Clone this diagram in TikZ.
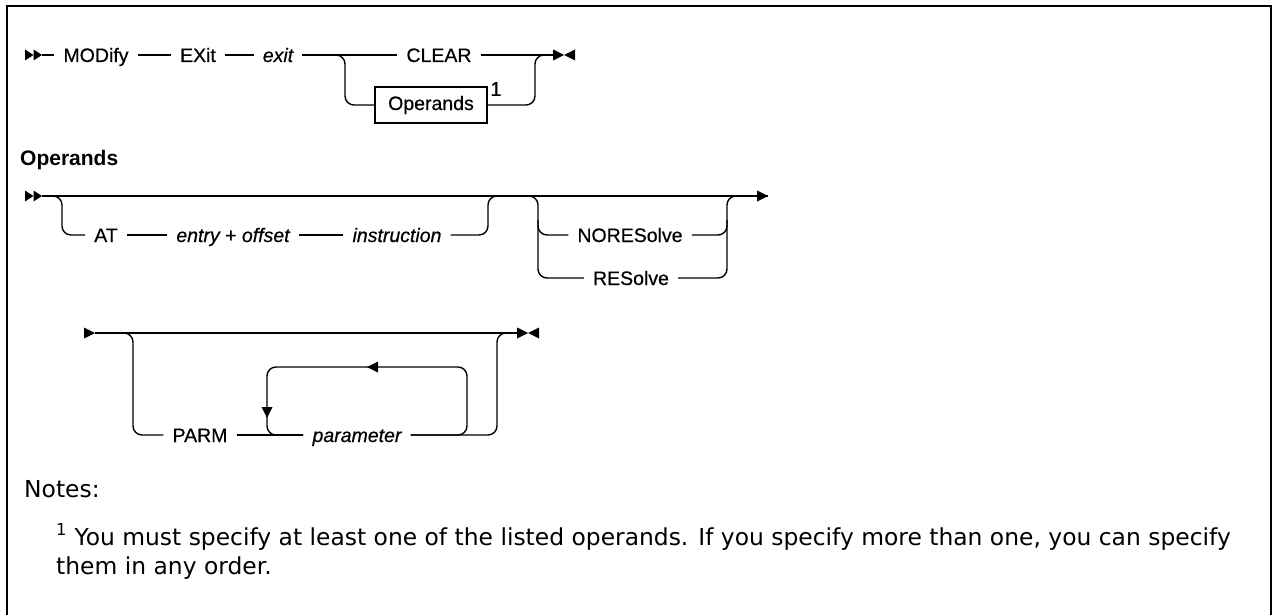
\documentclass[tikz,border=0pt]{standalone}
\usepackage{fontspec}
\setmainfont{Liberation Sans}
\newfontfamily\diagfont[FakeBold=0.5]{Liberation Sans}
\newfontfamily\notefont{DejaVu Sans}
\newcommand\dsz{\diagfont\fontsize{19.5}{23}\selectfont}
\newcommand\nsz{\notefont\fontsize{23.4}{28}\selectfont}
\tikzset{
  rr/.style={line width=1.4pt, line join=round},
  br/.style={rr, rounded corners=9pt},
  kw/.style={font=\dsz, inner xsep=9pt, inner ysep=0pt, text height=14pt, text depth=0pt},
  var/.style={kw, font=\dsz\itshape},
  opbox/.style={draw, line width=1.3pt, font=\dsz, minimum width=112pt, minimum height=36pt, inner sep=0pt},
  startmark/.pic={\fill (0,-5.5) -- (8.5,0) -- (0,5.5) -- cycle;
                  \fill (8.5,-5.5) -- (17,0) -- (8.5,5.5) -- cycle;},
  endmark/.pic={\fill (0,-5.5) -- (11,0) -- (0,5.5) -- cycle;
                \fill (22,-5.5) -- (11,0) -- (22,5.5) -- cycle;},
  triR/.pic={\fill (-11,-5.5) -- (0,0) -- (-11,5.5) -- cycle;},
  triL/.pic={\fill (11,-5.5) -- (0,0) -- (11,5.5) -- cycle;},
  triD/.pic={\fill (-5.5,-11) -- (0,0) -- (5.5,-11) -- cycle;},
}
\begin{document}
\begin{tikzpicture}[x=1pt,y=-1pt]
\useasboundingbox (0,0) rectangle (1273,615);
% frame
\draw[line width=2pt] (7,620) -- (7,6) -- (1271,6) -- (1271,620);

% ---------- Diagram 1 ----------
\pic at (25,55) {startmark};
\coordinate (s1) at (42,55);
\node[kw] (mod) at (96,55) {MODify};
\node[kw] (ex) at (198,55) {EXit};
\node[var] (exv) at (278,55) {exit};
\node[kw] (clr) at (439,55) {CLEAR};
\node[opbox] (ops) at (431,105) {Operands};
\node[font=\diagfont\fontsize{20}{20}\selectfont, inner sep=0pt] (sup1) at (496,89) {1};
\coordinate (e1) at (553,55);
\pic at (e1) {endmark};
\draw[rr] (s1) -- (mod.west);
\draw[rr] (mod.east) -- (ex.west);
\draw[rr] (ex.east) -- (exv.west);
\draw[rr] (exv.east) -- (clr.west);
\draw[rr] (clr.east) -- (e1);
\draw[br] (exv.east) -- (345,55) -- (345,105) -- (ops.west);
\draw[br] (ops.east) -- (535,105) -- (535,55) -- (e1);

% heading
\node[font=\fontsize{21}{24}\selectfont\bfseries, anchor=west, inner sep=0pt] (hd) at (20,160) {Operands};

% ---------- Diagram 2 ----------
\pic at (25,196) {startmark};
\coordinate (s2) at (42,196);
\coordinate (a2) at (768,196);
\draw[rr] (s2) -- (a2);
\pic at (a2) {triR};
\node[kw] (at) at (106,235) {AT};
\node[var] (eo) at (233,235) {entry {\upshape+} offset};
\node[var] (ins) at (397,235) {instruction};
\draw[br] (s2) -- (62,196) -- (62,235) -- (at.west);
\draw[rr] (at.east) -- (eo.west);
\draw[rr] (eo.east) -- (ins.west);
\draw[br] (ins.east) -- (488,235) -- (488,196) -- (505,196);
\node[kw] (nor) at (630,235) {NORESolve};
\node[kw] (res) at (631,278) {RESolve};
\draw[br] (520,196) -- (538,196) -- (538,235) -- (nor.west);
\draw[br] (538,220) -- (538,278) -- (res.west);
\draw[br] (nor.east) -- (727,235) -- (727,196) -- (745,196);
\draw[br] (res.east) -- (727,278) -- (727,220);

% ---------- Diagram 3 ----------
\pic at (95,333) {triR};
\coordinate (s3) at (95,333);
\coordinate (e3) at (517,333);
\draw[rr] (s3) -- (e3);
\pic at (e3) {endmark};
\node[kw] (parm) at (200,435) {PARM};
\node[var] (par) at (357,435) {parameter};
\draw[br] (s3) -- (133,333) -- (133,435) -- (parm.west);
\draw[rr] (parm.east) -- (par.west);
\draw[br] (par.east) -- (467,435) -- (467,367) -- (267,367) -- (267,435) -- (par.west);
\draw[br] (par.east) -- (497,435) -- (497,333) -- (e3);
\pic at (367,367) {triL};
\pic at (267,418) {triD};

% ---------- Notes ----------
\node[font=\nsz, anchor=base west, inner sep=0pt] (notes) at (24,497) {Notes:};
\node[font=\nsz, anchor=base west, inner sep=0pt] (note1) at (56,545) {\textsuperscript{1} You must specify at least one of the listed operands. If you specify more than one, you can specify};
\node[font=\nsz, anchor=base west, inner sep=0pt] (note2) at (56,574) {them in any order.};
\end{tikzpicture}
\end{document}
